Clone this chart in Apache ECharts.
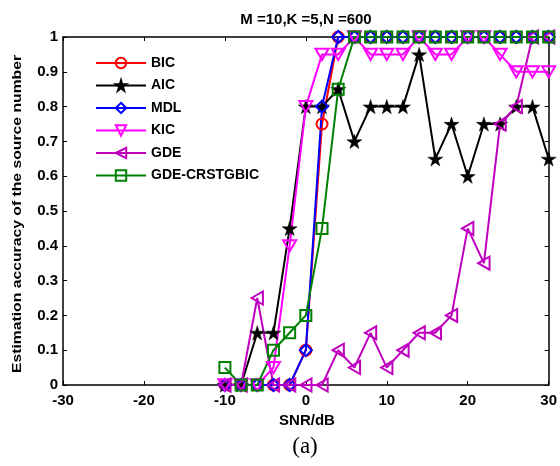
<!DOCTYPE html>
<html><head><meta charset="utf-8">
<script src="https://cdn.jsdelivr.net/npm/echarts@6/dist/echarts.min.js"></script>
<style>html,body{margin:0;padding:0;background:#fff}#c{width:560px;height:466px}</style>
</head><body><div id="c"></div>
<script>
const snr = [-10,-8,-6,-4,-2,0,2,4,6,8,10,12,14,16,18,20,22,24,26,28,30];
const bic = [0,0,0,0,0,0.1,0.75,1,1,1,1,1,1,1,1,1,1,1,1,1,1];
const aic = [0,0,0.15,0.15,0.45,0.8,0.8,0.85,0.7,0.8,0.8,0.8,0.95,0.65,0.75,0.6,0.75,0.75,0.8,0.8,0.65];
const mdl = [0,0,0,0,0,0.1,0.8,1,1,1,1,1,1,1,1,1,1,1,1,1,1];
const kic = [0,0,0,0.05,0.4,0.8,0.95,0.95,1,0.95,0.95,0.95,1,0.95,0.95,1,1,0.95,0.9,0.9,0.9];
const gde = [0,0,0.25,0,0,0,0,0.1,0.05,0.15,0.05,0.1,0.15,0.15,0.2,0.45,0.35,0.75,0.8,1,1];
const crst = [0.05,0,0,0.1,0.15,0.2,0.45,0.85,1,1,1,1,1,1,1,1,1,1,1,1,1];
const seriesNames = ['BIC','AIC','MDL','KIC','GDE','GDE-CRSTGBIC'];
const titleText = 'M =10,K =5,N =600';
const xName = 'SNR/dB';
const yName = 'Estimation accuracy of the source number';
const caption = '(a)';

const F = '"Liberation Sans", Arial, sans-serif';
const STAR = 'path://M50,0 L61,35 L98,35 L68,57 L79,91 L50,70 L21,91 L32,57 L2,35 L39,35 Z';
const TDOWN = 'path://M0,0 L100,0 L50,87 Z';
const TLEFT = 'path://M0,50 L87,0 L87,100 Z';
const DIAM = 'path://M50,0 L100,50 L50,100 L0,50 Z';
const SQ = 'path://M0,0 L100,0 L100,100 L0,100 Z';

function mk(name, ys, color, symbol, size, filled) {
  return {
    name, type: 'line', data: snr.map((x,i)=>[x, ys[i]]),
    symbol, symbolSize: size, symbolKeepAspect: true, showAllSymbol: true,
    lineStyle: {color, width: 2},
    itemStyle: {color: filled ? color : 'rgba(0,0,0,0)', borderColor: color, borderWidth: filled ? 0.5 : 2},
    emphasis: {disabled: true}, animation: false
  };
}

const chart = echarts.init(document.getElementById('c'), null, {renderer: 'canvas'});
const axisCommon = {
  axisLine: {show: true, onZero: false, lineStyle: {color: '#000', width: 1.5}},
  axisTick: {show: true, inside: true, length: 4, lineStyle: {color: '#000'}},
  splitLine: {show: false}
};
chart.setOption({
  animation: false,
  backgroundColor: '#fff',
  graphic: [
    {type: 'text', x: 306, y: 20, style: {text: titleText, font: 'bold 15px ' + F, fill: '#000', align: 'center', verticalAlign: 'middle'}},
    {type: 'text', x: 307, y: 421, style: {text: xName, font: 'bold 15px ' + F, fill: '#000', align: 'center', verticalAlign: 'middle'}},
    {type: 'text', x: 17, y: 214, rotation: Math.PI/2, scaleX: 1.21, style: {text: yName, font: 'bold 13px ' + F, fill: '#000', align: 'center', verticalAlign: 'middle'}},
    {type: 'text', x: 305, y: 447, style: {text: caption, font: '23px "Liberation Serif", "Times New Roman", serif', fill: '#000', align: 'center', verticalAlign: 'middle'}}
  ],
  legend: {
    orient: 'vertical', left: 90, top: 51, itemWidth: 50, itemHeight: 13, itemGap: 8.5,
    data: seriesNames,
    textStyle: {fontFamily: F, fontWeight: 'bold', fontSize: 14, color: '#000'},
    selectedMode: false
  },
  grid: {left: 63, right: 7, top: 37, bottom: 81, containLabel: false},
  xAxis: [
    Object.assign({type: 'value', min: -30, max: 30, interval: 10, position: 'bottom',
      axisLabel: {fontFamily: F, fontWeight: 'bold', fontSize: 15, color: '#000', margin: 8}}, axisCommon),
    Object.assign({type: 'value', min: -30, max: 30, interval: 10, position: 'top',
      axisLabel: {show: false}}, axisCommon)
  ],
  yAxis: [
    Object.assign({type: 'value', min: 0, max: 1, interval: 0.1, position: 'left',
      axisLabel: {fontFamily: F, fontWeight: 'bold', fontSize: 15, color: '#000', margin: 5,
        formatter: v => String(Math.round(v*10)/10)}}, axisCommon),
    Object.assign({type: 'value', min: 0, max: 1, interval: 0.1, position: 'right',
      axisLabel: {show: false}}, axisCommon)
  ],
  series: [
    mk('BIC', bic, '#ff0000', 'circle', 11, false),
    mk('AIC', aic, '#000000', STAR, 15, true),
    mk('MDL', mdl, '#0000ff', DIAM, 12, false),
    mk('KIC', kic, '#ff00ff', TDOWN, 13, false),
    mk('GDE', gde, '#bf00bf', TLEFT, 13, false),
    mk('GDE-CRSTGBIC', crst, '#008000', SQ, 11, false)
  ]
});
</script></body></html>
